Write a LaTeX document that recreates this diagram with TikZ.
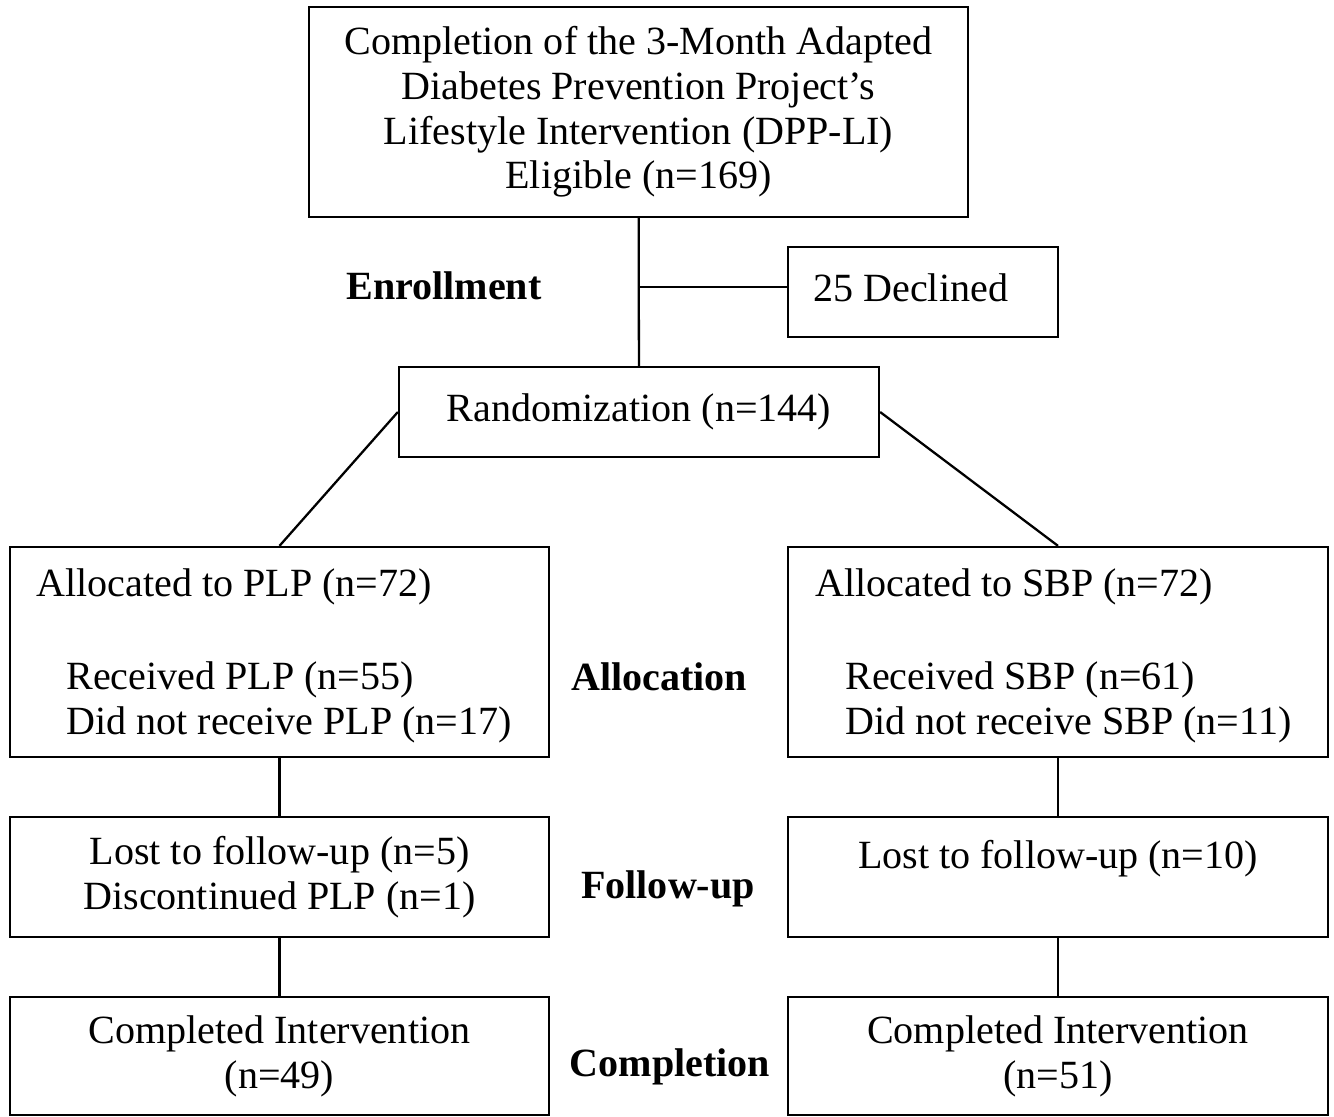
\documentclass[tikz,border=0pt]{standalone}
\usepackage{fontspec}
\setmainfont{Liberation Serif}
\usepackage{tikz}
\usetikzlibrary{positioning}

% one pixel of the layout
\def\px{0.02cm}

\begin{document}
\begin{tikzpicture}[
   x=0.02cm, y=-0.02cm,
   font=\fontsize{22.8}{25.5}\selectfont,
   box/.style={rectangle, draw=black, line width=1.3pt, align=center,
               inner sep=0pt},
   txt/.style={anchor=west, inner sep=0pt},
   stage/.style={font=\fontsize{22.8}{25.5}\selectfont\bfseries, inner sep=0pt},
   link/.style={draw=black, line width=1.3pt}
  ]

  % page size
  \useasboundingbox (0, 0) rectangle (1334, 1116);

  % Enrollment
  \node (elig) at (638.5, 112) [box, minimum width=659*\px, minimum height=210*\px]
    {Completion of the 3-Month Adapted\\ Diabetes Prevention Project's\\
     Lifestyle Intervention (DPP-LI)\\ Eligible (n=169)};
  \node (decl) at (923, 292) [box, minimum width=270*\px, minimum height=90*\px] {};
  \node (decltxt) at (813, 288) [txt] {25 Declined};
  \node (enrol) at (444, 286) [stage] {Enrollment};
  \node (rand) at (639, 412) [box, minimum width=480*\px, minimum height=90*\px]
    {Randomization (n=144)};

  % Allocation
  \node (plp) at (279.5, 652) [box, minimum width=539*\px, minimum height=210*\px] {};
  \node (plpa) at (36, 587) [txt] {Allocated to PLP (n=72)};
  \node (plpb) at (66, 680) [txt] {Received PLP (n=55)};
  \node (plpc) at (66, 725) [txt] {Did not receive PLP (n=17)};
  \node (sbp) at (1058, 652) [box, minimum width=540*\px, minimum height=210*\px] {};
  \node (sbpa) at (815, 587) [txt] {Allocated to SBP (n=72)};
  \node (sbpb) at (845, 680) [txt] {Received SBP (n=61)};
  \node (sbpc) at (845, 725) [txt] {Did not receive SBP (n=11)};
  \node (alloc) at (659, 677) [stage] {Allocation};

  % Follow-up
  \node (plpfu) at (279.5, 877) [box, minimum width=539*\px, minimum height=120*\px]
    {Lost to follow-up (n=5)\\ Discontinued PLP (n=1)};
  \node (sbpfu) at (1058, 877) [box, minimum width=540*\px, minimum height=120*\px]
    {Lost to follow-up (n=10)\\ ~};
  \node (follow) at (668, 889) [stage] {Follow-up};

  % Completion
  \node (plpco) at (279.5, 1056) [box, minimum width=539*\px, minimum height=118*\px]
    {Completed Intervention\\ (n=49)};
  \node (sbpco) at (1058, 1056) [box, minimum width=540*\px, minimum height=118*\px]
    {Completed Intervention\\ (n=51)};
  \node (compl) at (670, 1067) [stage] {Completion};

  \coordinate (split) at (638.5, 287);

  \draw[link] (elig) -- (rand);
  \draw[link] (split) -- (split -| decl.west);
  \draw[link] (rand.west) -- (plp.north);
  \draw[link] (rand.east) -- (sbp.north);

  \foreach \B/\E in {plp/plpfu, plpfu/plpco, sbp/sbpfu, sbpfu/sbpco} {
    \draw[link] (\B) -- (\E);
  }

\end{tikzpicture}
\end{document}
